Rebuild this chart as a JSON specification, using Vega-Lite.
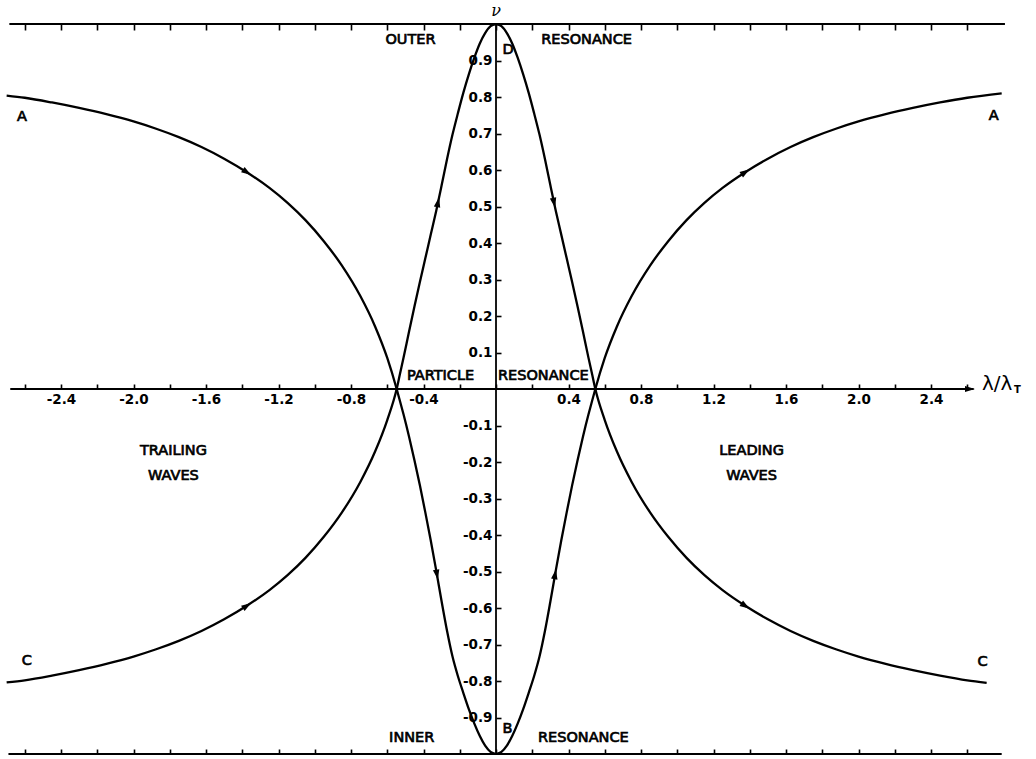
{
  "$schema": "https://vega.github.io/schema/vega-lite/v6.json",
  "width": 1036,
  "height": 759,
  "padding": 0,
  "autosize": {"type": "none"},
  "background": "white",
  "config": {
    "view": {"stroke": null},
    "axis": {"labelFont": "DejaVu Sans", "labelFontSize": 13.5, "labelFontWeight": "bold", "labelColor": "black", "tickColor": "black", "tickWidth": 1.6, "grid": false, "domain": false, "labelFlush": false, "labelOverlap": false, "labelBound": false}
  },
  "resolve": {"axis": {"x": "independent", "y": "independent"}},
  "datasets": {
    "curves": [
      {"c": "DC", "x": 0, "v": 1}, {"c": "DC", "x": 0.03, "v": 0.994}, {"c": "DC", "x": 0.06, "v": 0.975}, {"c": "DC", "x": 0.09, "v": 0.946}, {"c": "DC", "x": 0.12, "v": 0.907}, {"c": "DC", "x": 0.15, "v": 0.862}, {"c": "DC", "x": 0.18, "v": 0.812}, {"c": "DC", "x": 0.21, "v": 0.756}, {"c": "DC", "x": 0.24, "v": 0.697}, {"c": "DC", "x": 0.27, "v": 0.63}, {"c": "DC", "x": 0.3, "v": 0.558}, {"c": "DC", "x": 0.33, "v": 0.488}, {"c": "DC", "x": 0.36, "v": 0.423}, {"c": "DC", "x": 0.39, "v": 0.358}, {"c": "DC", "x": 0.42, "v": 0.293}, {"c": "DC", "x": 0.45, "v": 0.226}, {"c": "DC", "x": 0.48, "v": 0.157}, {"c": "DC", "x": 0.51, "v": 0.086}, {"c": "DC", "x": 0.53, "v": 0.041}, {"c": "DC", "x": 0.548, "v": 0}, {"c": "DC", "x": 0.6, "v": -0.085}, {"c": "DC", "x": 0.666, "v": -0.17}, {"c": "DC", "x": 0.75, "v": -0.256}, {"c": "DC", "x": 0.85, "v": -0.338}, {"c": "DC", "x": 0.95, "v": -0.405}, {"c": "DC", "x": 1.05, "v": -0.462}, {"c": "DC", "x": 1.15, "v": -0.51}, {"c": "DC", "x": 1.25, "v": -0.551}, {"c": "DC", "x": 1.375, "v": -0.594}, {"c": "DC", "x": 1.5, "v": -0.631}, {"c": "DC", "x": 1.625, "v": -0.663}, {"c": "DC", "x": 1.75, "v": -0.69}, {"c": "DC", "x": 1.875, "v": -0.713}, {"c": "DC", "x": 2.0, "v": -0.733}, {"c": "DC", "x": 2.15, "v": -0.753}, {"c": "DC", "x": 2.3, "v": -0.77}, {"c": "DC", "x": 2.45, "v": -0.785}, {"c": "DC", "x": 2.6, "v": -0.798}, {"c": "DC", "x": 2.707, "v": -0.805},
      {"c": "BA", "x": 0, "v": -1}, {"c": "BA", "x": 0.03, "v": -0.994}, {"c": "BA", "x": 0.06, "v": -0.977}, {"c": "BA", "x": 0.09, "v": -0.95}, {"c": "BA", "x": 0.12, "v": -0.916}, {"c": "BA", "x": 0.15, "v": -0.877}, {"c": "BA", "x": 0.18, "v": -0.833}, {"c": "BA", "x": 0.21, "v": -0.787}, {"c": "BA", "x": 0.24, "v": -0.733}, {"c": "BA", "x": 0.27, "v": -0.663}, {"c": "BA", "x": 0.3, "v": -0.582}, {"c": "BA", "x": 0.33, "v": -0.497}, {"c": "BA", "x": 0.36, "v": -0.415}, {"c": "BA", "x": 0.39, "v": -0.338}, {"c": "BA", "x": 0.42, "v": -0.264}, {"c": "BA", "x": 0.45, "v": -0.195}, {"c": "BA", "x": 0.48, "v": -0.13}, {"c": "BA", "x": 0.51, "v": -0.07}, {"c": "BA", "x": 0.53, "v": -0.033}, {"c": "BA", "x": 0.548, "v": 0}, {"c": "BA", "x": 0.6, "v": 0.085}, {"c": "BA", "x": 0.666, "v": 0.17}, {"c": "BA", "x": 0.75, "v": 0.256}, {"c": "BA", "x": 0.85, "v": 0.338}, {"c": "BA", "x": 0.95, "v": 0.405}, {"c": "BA", "x": 1.05, "v": 0.462}, {"c": "BA", "x": 1.15, "v": 0.51}, {"c": "BA", "x": 1.25, "v": 0.551}, {"c": "BA", "x": 1.375, "v": 0.594}, {"c": "BA", "x": 1.5, "v": 0.631}, {"c": "BA", "x": 1.625, "v": 0.663}, {"c": "BA", "x": 1.75, "v": 0.69}, {"c": "BA", "x": 1.875, "v": 0.713}, {"c": "BA", "x": 2.0, "v": 0.733}, {"c": "BA", "x": 2.15, "v": 0.753}, {"c": "BA", "x": 2.3, "v": 0.77}, {"c": "BA", "x": 2.45, "v": 0.785}, {"c": "BA", "x": 2.6, "v": 0.798}, {"c": "BA", "x": 2.79, "v": 0.81},
      {"c": "AB", "x": -2.7, "v": 0.804}, {"c": "AB", "x": -2.6, "v": 0.798}, {"c": "AB", "x": -2.45, "v": 0.785}, {"c": "AB", "x": -2.3, "v": 0.77}, {"c": "AB", "x": -2.15, "v": 0.753}, {"c": "AB", "x": -2.0, "v": 0.733}, {"c": "AB", "x": -1.875, "v": 0.713}, {"c": "AB", "x": -1.75, "v": 0.69}, {"c": "AB", "x": -1.625, "v": 0.663}, {"c": "AB", "x": -1.5, "v": 0.631}, {"c": "AB", "x": -1.375, "v": 0.594}, {"c": "AB", "x": -1.25, "v": 0.551}, {"c": "AB", "x": -1.15, "v": 0.51}, {"c": "AB", "x": -1.05, "v": 0.462}, {"c": "AB", "x": -0.95, "v": 0.405}, {"c": "AB", "x": -0.85, "v": 0.338}, {"c": "AB", "x": -0.75, "v": 0.256}, {"c": "AB", "x": -0.666, "v": 0.17}, {"c": "AB", "x": -0.6, "v": 0.085}, {"c": "AB", "x": -0.548, "v": 0}, {"c": "AB", "x": -0.53, "v": -0.033}, {"c": "AB", "x": -0.51, "v": -0.07}, {"c": "AB", "x": -0.48, "v": -0.13}, {"c": "AB", "x": -0.45, "v": -0.195}, {"c": "AB", "x": -0.42, "v": -0.264}, {"c": "AB", "x": -0.39, "v": -0.338}, {"c": "AB", "x": -0.36, "v": -0.415}, {"c": "AB", "x": -0.33, "v": -0.497}, {"c": "AB", "x": -0.3, "v": -0.582}, {"c": "AB", "x": -0.27, "v": -0.663}, {"c": "AB", "x": -0.24, "v": -0.733}, {"c": "AB", "x": -0.21, "v": -0.787}, {"c": "AB", "x": -0.18, "v": -0.833}, {"c": "AB", "x": -0.15, "v": -0.877}, {"c": "AB", "x": -0.12, "v": -0.916}, {"c": "AB", "x": -0.09, "v": -0.95}, {"c": "AB", "x": -0.06, "v": -0.977}, {"c": "AB", "x": -0.03, "v": -0.994}, {"c": "AB", "x": 0, "v": -1},
      {"c": "CD", "x": -2.7, "v": -0.804}, {"c": "CD", "x": -2.6, "v": -0.798}, {"c": "CD", "x": -2.45, "v": -0.785}, {"c": "CD", "x": -2.3, "v": -0.77}, {"c": "CD", "x": -2.15, "v": -0.753}, {"c": "CD", "x": -2.0, "v": -0.733}, {"c": "CD", "x": -1.875, "v": -0.713}, {"c": "CD", "x": -1.75, "v": -0.69}, {"c": "CD", "x": -1.625, "v": -0.663}, {"c": "CD", "x": -1.5, "v": -0.631}, {"c": "CD", "x": -1.375, "v": -0.594}, {"c": "CD", "x": -1.25, "v": -0.551}, {"c": "CD", "x": -1.15, "v": -0.51}, {"c": "CD", "x": -1.05, "v": -0.462}, {"c": "CD", "x": -0.95, "v": -0.405}, {"c": "CD", "x": -0.85, "v": -0.338}, {"c": "CD", "x": -0.75, "v": -0.256}, {"c": "CD", "x": -0.666, "v": -0.17}, {"c": "CD", "x": -0.6, "v": -0.085}, {"c": "CD", "x": -0.548, "v": 0}, {"c": "CD", "x": -0.53, "v": 0.041}, {"c": "CD", "x": -0.51, "v": 0.086}, {"c": "CD", "x": -0.48, "v": 0.157}, {"c": "CD", "x": -0.45, "v": 0.226}, {"c": "CD", "x": -0.42, "v": 0.293}, {"c": "CD", "x": -0.39, "v": 0.358}, {"c": "CD", "x": -0.36, "v": 0.423}, {"c": "CD", "x": -0.33, "v": 0.488}, {"c": "CD", "x": -0.3, "v": 0.558}, {"c": "CD", "x": -0.27, "v": 0.63}, {"c": "CD", "x": -0.24, "v": 0.697}, {"c": "CD", "x": -0.21, "v": 0.756}, {"c": "CD", "x": -0.18, "v": 0.812}, {"c": "CD", "x": -0.15, "v": 0.862}, {"c": "CD", "x": -0.12, "v": 0.907}, {"c": "CD", "x": -0.09, "v": 0.946}, {"c": "CD", "x": -0.06, "v": 0.975}, {"c": "CD", "x": -0.03, "v": 0.994}, {"c": "CD", "x": 0, "v": 1}
    ],
    "arrows": [
      {"x": -1.375, "v": 0.594, "h": 123}, {"x": 1.375, "v": 0.594, "h": 57},
      {"x": -1.375, "v": -0.594, "h": 57}, {"x": 1.375, "v": -0.594, "h": 123},
      {"x": 0.32, "v": 0.511, "h": 168}, {"x": -0.32, "v": 0.511, "h": 12},
      {"x": -0.326, "v": -0.508, "h": 170}, {"x": 0.326, "v": -0.508, "h": 10}
    ],
    "labels": [
      {"x": -0.472, "v": 0.955, "t": "OUTER"}, {"x": 0.5, "v": 0.955, "t": "RESONANCE"}, {"x": 0.066, "v": 0.929, "t": "D"},
      {"x": -2.615, "v": 0.744, "t": "A"}, {"x": 2.746, "v": 0.748, "t": "A"},
      {"x": -2.588, "v": -0.745, "t": "C"}, {"x": 2.684, "v": -0.749, "t": "C"},
      {"x": -0.306, "v": 0.036, "t": "PARTICLE"}, {"x": 0.261, "v": 0.036, "t": "RESONANCE"},
      {"x": -1.78, "v": -0.17, "t": "TRAILING"}, {"x": -1.78, "v": -0.238, "t": "WAVES"},
      {"x": 1.41, "v": -0.17, "t": "LEADING"}, {"x": 1.41, "v": -0.238, "t": "WAVES"},
      {"x": -0.465, "v": -0.955, "t": "INNER"}, {"x": 0.063, "v": -0.932, "t": "B"}, {"x": 0.482, "v": -0.955, "t": "RESONANCE"}
    ]
  },
  "layer": [
    {
      "data": {"name": "curves"},
      "mark": {"type": "line", "interpolate": "monotone", "color": "black", "strokeWidth": 2.3},
      "encoding": {
        "x": {"field": "x", "type": "quantitative", "scale": {"domain": [-2.7366, 2.9793], "nice": false, "zero": false},
          "axis": {"orient": "bottom", "offset": -370, "values": [-2.4, -2.0, -1.6, -1.2, -0.8, -0.4, 0.4, 0.8, 1.2, 1.6, 2.0, 2.4], "format": ".1f", "labelExpr": "replace(datum.label, '−', '-')", "ticks": false, "tickSize": 0, "labelPadding": 3, "labelBaseline": "top", "title": null}},
        "y": {"field": "v", "type": "quantitative", "scale": {"domain": [-1.0137, 1.0658], "nice": false, "zero": false},
          "axis": {"orient": "left", "offset": -496, "values": [-0.9, -0.8, -0.7, -0.6, -0.5, -0.4, -0.3, -0.2, -0.1, 0.1, 0.2, 0.3, 0.4, 0.5, 0.6, 0.7, 0.8, 0.9], "format": ".1f", "labelExpr": "replace(datum.label, '−', '-')", "ticks": false, "tickSize": 0, "labelPadding": 4, "title": null}},
        "detail": {"field": "c"}
      }
    },
    {
      "data": {"name": "arrows"},
      "mark": {"type": "point", "shape": "M0,-1L0.62,0.9L-0.62,0.9Z", "filled": true, "color": "black", "opacity": 1, "size": 110, "strokeWidth": 0},
      "encoding": {
        "x": {"field": "x", "type": "quantitative", "scale": {"domain": [-2.7366, 2.9793], "nice": false, "zero": false}, "axis": null},
        "y": {"field": "v", "type": "quantitative", "scale": {"domain": [-1.0137, 1.0658], "nice": false, "zero": false}, "axis": null},
        "angle": {"field": "h", "type": "quantitative", "scale": null}
      }
    },
    {
      "data": {"values": [{}]},
      "mark": {"type": "rule", "color": "black", "strokeWidth": 1.9},
      "encoding": {
        "x": {"datum": -2.68, "type": "quantitative", "scale": {"domain": [-2.7366, 2.9793], "nice": false, "zero": false},
          "axis": {"orient": "top", "offset": -389, "values": [-2.6, -2.4, -2.2, -2.0, -1.8, -1.6, -1.4, -1.2, -1.0, -0.8, -0.6, -0.4, -0.2, 0, 0.2, 0.4, 0.6, 0.8, 1.0, 1.2, 1.4, 1.6, 1.8, 2.0, 2.2, 2.4, 2.6], "tickSize": 5, "labels": false, "title": null}},
        "x2": {"datum": 2.635},
        "y": {"datum": 0, "type": "quantitative", "scale": {"domain": [-1.0137, 1.0658], "nice": false, "zero": false}, "axis": null}
      }
    },
    {
      "data": {"values": [{}]},
      "mark": {"type": "rule", "color": "black", "strokeWidth": 2},
      "encoding": {
        "x": {"datum": -2.685, "type": "quantitative", "scale": {"domain": [-2.7366, 2.9793], "nice": false, "zero": false},
          "axis": {"orient": "bottom", "offset": -735, "values": [-2.6, -2.4, -2.2, -2.0, -1.8, -1.6, -1.4, -1.2, -1.0, -0.8, -0.6, -0.4, -0.2, 0, 0.2, 0.4, 0.6, 0.8, 1.0, 1.2, 1.4, 1.6, 1.8, 2.0, 2.2, 2.4, 2.6], "tickSize": 6, "labels": false, "title": null}},
        "x2": {"datum": 2.808},
        "y": {"datum": 1, "type": "quantitative", "scale": {"domain": [-1.0137, 1.0658], "nice": false, "zero": false}, "axis": null}
      }
    },
    {
      "data": {"values": [{}]},
      "mark": {"type": "rule", "color": "black", "strokeWidth": 2},
      "encoding": {
        "x": {"datum": -2.69, "type": "quantitative", "scale": {"domain": [-2.7366, 2.9793], "nice": false, "zero": false},
          "axis": {"orient": "top", "offset": -754, "values": [-2.6, -2.4, -2.2, -2.0, -1.8, -1.6, -1.4, -1.2, -1.0, -0.8, -0.6, -0.4, -0.2, 0, 0.2, 0.4, 0.6, 0.8, 1.0, 1.2, 1.4, 1.6, 1.8, 2.0, 2.2, 2.4, 2.6], "tickSize": 5, "labels": false, "title": null}},
        "x2": {"datum": 2.79},
        "y": {"datum": -1, "type": "quantitative", "scale": {"domain": [-1.0137, 1.0658], "nice": false, "zero": false}, "axis": null}
      }
    },
    {
      "data": {"values": [{}]},
      "mark": {"type": "rule", "color": "black", "strokeWidth": 1.8},
      "encoding": {
        "x": {"datum": 0, "type": "quantitative", "scale": {"domain": [-2.7366, 2.9793], "nice": false, "zero": false}, "axis": null},
        "y": {"datum": -1, "type": "quantitative", "scale": {"domain": [-1.0137, 1.0658], "nice": false, "zero": false},
          "axis": {"orient": "right", "offset": -540, "values": [-0.9, -0.8, -0.7, -0.6, -0.5, -0.4, -0.3, -0.2, -0.1, 0.1, 0.2, 0.3, 0.4, 0.5, 0.6, 0.7, 0.8, 0.9], "tickSize": 5, "labels": false, "title": null}},
        "y2": {"datum": 1}
      }
    },
    {
      "data": {"values": [{"x": 2.615, "v": 0}]},
      "mark": {"type": "point", "shape": "M1,0L-1,-0.6L-1,0.6Z", "filled": true, "color": "black", "opacity": 1, "size": 100, "strokeWidth": 0},
      "encoding": {
        "x": {"field": "x", "type": "quantitative", "scale": {"domain": [-2.7366, 2.9793], "nice": false, "zero": false}, "axis": null},
        "y": {"field": "v", "type": "quantitative", "scale": {"domain": [-1.0137, 1.0658], "nice": false, "zero": false}, "axis": null}
      }
    },
    {
      "data": {"name": "labels"},
      "mark": {"type": "text", "font": "DejaVu Sans", "fontSize": 14.5, "color": "black", "stroke": "black", "strokeWidth": 0.7, "align": "center", "baseline": "middle"},
      "encoding": {
        "x": {"field": "x", "type": "quantitative", "scale": {"domain": [-2.7366, 2.9793], "nice": false, "zero": false}, "axis": null},
        "y": {"field": "v", "type": "quantitative", "scale": {"domain": [-1.0137, 1.0658], "nice": false, "zero": false}, "axis": null},
        "text": {"field": "t"}
      }
    },
    {
      "data": {"values": [{"x": 0, "v": 1.022, "t": "ν"}]},
      "mark": {"type": "text", "font": "DejaVu Serif", "fontStyle": "italic", "fontSize": 16, "color": "black", "align": "center", "baseline": "alphabetic"},
      "encoding": {
        "x": {"field": "x", "type": "quantitative", "scale": {"domain": [-2.7366, 2.9793], "nice": false, "zero": false}, "axis": null},
        "y": {"field": "v", "type": "quantitative", "scale": {"domain": [-1.0137, 1.0658], "nice": false, "zero": false}, "axis": null},
        "text": {"field": "t"}
      }
    },
    {
      "data": {"values": [{"x": 2.681, "v": -0.003, "t": "λ/λ"}]},
      "mark": {"type": "text", "font": "DejaVu Sans", "fontSize": 20, "color": "black", "align": "left", "baseline": "alphabetic"},
      "encoding": {
        "x": {"field": "x", "type": "quantitative", "scale": {"domain": [-2.7366, 2.9793], "nice": false, "zero": false}, "axis": null},
        "y": {"field": "v", "type": "quantitative", "scale": {"domain": [-1.0137, 1.0658], "nice": false, "zero": false}, "axis": null},
        "text": {"field": "t"}
      }
    },
    {
      "data": {"values": [{"x": 2.858, "v": -0.012, "t": "T"}]},
      "mark": {"type": "text", "font": "DejaVu Sans", "fontSize": 10, "fontWeight": "bold", "color": "black", "align": "left", "baseline": "alphabetic"},
      "encoding": {
        "x": {"field": "x", "type": "quantitative", "scale": {"domain": [-2.7366, 2.9793], "nice": false, "zero": false}, "axis": null},
        "y": {"field": "v", "type": "quantitative", "scale": {"domain": [-1.0137, 1.0658], "nice": false, "zero": false}, "axis": null},
        "text": {"field": "t"}
      }
    }
  ]
}
